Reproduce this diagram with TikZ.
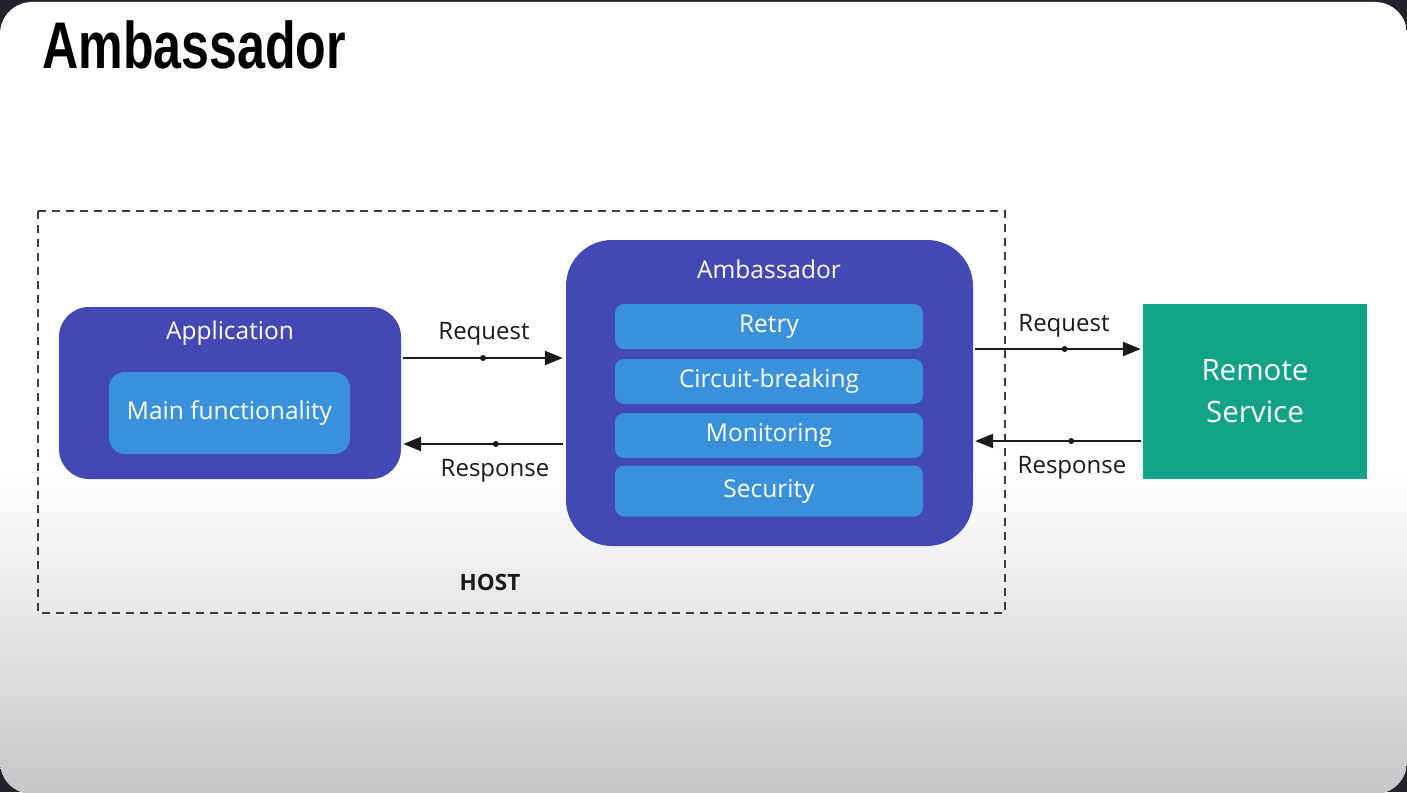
\documentclass[tikz,border=0pt]{standalone}
\usepackage{fontspec}
\setmainfont{Open Sans}
\newfontfamily\titlefont[FakeStretch=0.76]{Liberation Sans}
\usetikzlibrary{arrows.meta,calc}
\definecolor{darkbg}{HTML}{26222C}
\definecolor{indigo}{HTML}{4348B5}
\definecolor{lightblue}{HTML}{3A91DB}
\definecolor{teal}{HTML}{12A386}
\definecolor{ink}{HTML}{1A1A1A}
\tikzset{
  outerbox/.style={fill=indigo, draw=none, rounded corners=#1, inner sep=0pt},
  innerbox/.style={fill=lightblue, draw=none, rounded corners=#1, inner sep=0pt,
     text=white, font=\fontsize{24.5}{28}\selectfont, text height=12.5pt, text depth=0pt},
  boxtitle/.style={text=white, font=\fontsize{24.5}{28}\selectfont, inner sep=0pt, anchor=base},
  remotebox/.style={fill=teal, draw=none, inner sep=0pt, text=white, align=center,
     font=\fontsize{29.5}{42}\selectfont},
  flow/.style={draw=ink, line width=2.4pt, -{Triangle[length=18pt,width=14pt]}},
  middot/.style={circle, fill=ink, inner sep=0pt, minimum size=6pt},
  flowlabel/.style={text=ink, font=\fontsize{24}{28}\selectfont, inner sep=0pt, anchor=base},
  hostframe/.style={draw=ink!85, line width=1.6pt, dash pattern=on 8pt off 6pt},
}
\begin{document}
\begin{tikzpicture}[x=1pt,y=-1pt]
\useasboundingbox (0,0) rectangle (1407,792);
\fill[darkbg] (0,0) rectangle (1407,792);
\begin{scope}
  \clip[rounded corners=32pt] (0,2) rectangle (1407,794);
  \fill[white] (0,0) rectangle (1407,475);
  \shade[top color=white, bottom color=black!22] (0,474) rectangle (1407,794);
\end{scope}

% title
\node[anchor=base west, inner sep=0pt, text=black,
      font=\titlefont\bfseries\fontsize{66}{70}\selectfont] (title) at (42,69) {Ambassador};

% host frame
\draw[hostframe] (38,211) rectangle (1005,613);
\node[font=\bfseries\fontsize{22.5}{26}\selectfont, text=ink, inner sep=0pt, anchor=base] (host) at (490,590) {HOST};

% application
\node[outerbox=30pt, minimum width=342pt, minimum height=172pt] (app) at (230,393) {};
\node[boxtitle] (apptitle) at (230,339) {Application};
\node[innerbox=16pt, minimum width=241pt, minimum height=82pt] (main) at (229.5,413) {Main functionality};

% ambassador
\node[outerbox=46pt, minimum width=407pt, minimum height=306pt] (amb) at (769.5,393) {};
\node[boxtitle] (ambtitle) at (769,278) {Ambassador};
\node[innerbox=9pt, minimum width=308pt, minimum height=45pt] (retry) at (769,326.5) {Retry};
\node[innerbox=9pt, minimum width=308pt, minimum height=45pt] (circuit) at (769,381.5) {Circuit-breaking};
\node[innerbox=9pt, minimum width=308pt, minimum height=45pt] (monitor) at (769,435.5) {Monitoring};
\node[innerbox=9pt, minimum width=308pt, minimum height=51pt] (security) at (769,491) {Security};

% remote service
\node[remotebox, minimum width=224pt, minimum height=175pt] (remote) at (1255,391) {Remote\\Service};

% arrows left
\draw[flow] ([xshift=2pt]app.east |- 0,358) -- ([xshift=-3pt]amb.west |- 0,358)
   node[middot, pos=0.5] (d1) {};
\node[flowlabel] (req1) at (484,339) {Request};
\draw[flow] ([xshift=-3pt]amb.west |- 0,444) -- ([xshift=2pt]app.east |- 0,444)
   node[middot, pos=0.42] (d2) {};
\node[flowlabel] (res1) at (495,476) {Response};

% arrows right
\draw[flow] ([xshift=2pt]amb.east |- 0,349) -- ([xshift=-2pt]remote.west |- 0,349)
   node[middot, pos=0.54] (d3) {};
\node[flowlabel] (req2) at (1064,331) {Request};
\draw[flow] ([xshift=-2pt]remote.west |- 0,441) -- ([xshift=2pt]amb.east |- 0,441)
   node[middot, pos=0.42] (d4) {};
\node[flowlabel] (res2) at (1072,473) {Response};
\end{tikzpicture}
\end{document}
